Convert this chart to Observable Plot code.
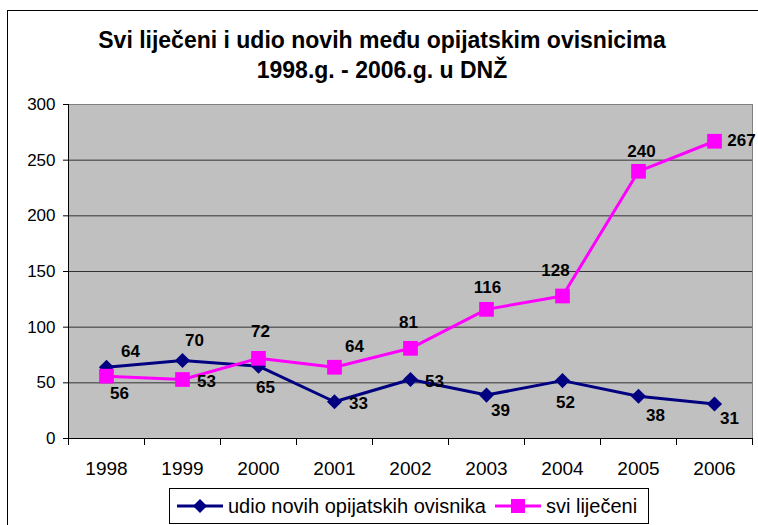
<!DOCTYPE html>
<html>
<head>
<meta charset="utf-8">
<script src="https://cdn.jsdelivr.net/npm/d3@7"></script>
<script src="https://cdn.jsdelivr.net/npm/@observablehq/plot@0.6"></script>
<style>
  html, body { margin: 0; padding: 0; background: #fff; overflow: hidden; }
  #wrap { position: relative; width: 758px; height: 525px; font-family: Arial, "Liberation Sans", sans-serif; color: #000; }
  #frame { position: absolute; left: 7px; top: 10px; width: 780px; height: 540px; border: 1px solid #000; box-sizing: border-box; }
  #title { position: absolute; left: 0; top: 25px; width: 764px; text-align: center; font-weight: bold; font-size: 23px; line-height: 30px; }
  #chart { position: absolute; left: 0; top: 90px; }
  #legend { position: absolute; left: 169px; top: 488px; width: 480px; height: 36px; box-sizing: border-box; border: 1px solid #000; background: #fff; display: flex; align-items: center; font-size: 20px; white-space: nowrap; }
  #legend svg { display: block; }
  .item { display: flex; align-items: center; }
</style>
</head>
<body>
<div id="wrap">
  <div id="frame"></div>
  <div id="title">Svi liječeni i udio novih među opijatskim ovisnicima<br>1998.g. - 2006.g. u DNŽ</div>
  <div id="chart"></div>
  <div id="legend"></div>
</div>
<script>
// ---- data ----
const years = [1998, 1999, 2000, 2001, 2002, 2003, 2004, 2005, 2006];
const noviValues = [64, 70, 65, 33, 53, 39, 52, 38, 31];
const sviValues = [56, 53, 72, 64, 81, 116, 128, 240, 267];
const yTicks = [0, 50, 100, 150, 200, 250, 300];
const seriesNames = ["udio novih opijatskih ovisnika", "svi liječeni"];
const seriesColors = ["#000080", "#FF00FF"];

// ---- label placement (layout only) ----
const noviLabelOffset = [[24,-16],[12,-20],[7,21],[24,2],[24,2],[14,15],[3,22],[17,19],[15,15]];
const sviLabelOffset = [[13,17],[24,2],[2,-27],[20,-21],[-2,-26],[1,-22],[-7,-25],[3,-20],[27,-1]];

const novi = years.map((x, i) => ({x, y: noviValues[i]}));
const svi = years.map((x, i) => ({x, y: sviValues[i]}));
const boundaries = years.map(y => y - 0.5).concat([years[years.length - 1] + 0.5]);

const labelMarks = (rows, offsets) => rows.map((d, i) => Plot.text([d], {
  x: "x", y: "y", text: d => String(d.y),
  dx: offsets[i][0], dy: offsets[i][1],
  fontWeight: "bold", fontSize: 17, fill: "#000"
}));

const chart = Plot.plot({
  width: 758,
  height: 390,
  marginLeft: 68,
  marginRight: 6,
  marginTop: 14,
  marginBottom: 42,
  x: {type: "linear", domain: [boundaries[0], boundaries[boundaries.length - 1]], axis: null},
  y: {domain: [0, 300], axis: null},
  style: {background: "transparent", fontFamily: "Arial, 'Liberation Sans', sans-serif", color: "#000", overflow: "visible"},
  marks: [
    Plot.frame({fill: "#c0c0c0", stroke: "#808080"}),
    Plot.ruleY(yTicks.filter(t => t > 0 && t < 300), {stroke: "#333", strokeWidth: 1}),
    Plot.ruleY([0], {stroke: "#000"}),
    Plot.ruleX([boundaries[0]], {stroke: "#000"}),
    Plot.axisY({ticks: yTicks, tickSize: 5, tickPadding: 8, fontSize: 17, label: null, tickFormat: d => String(d)}),
    Plot.axisX({ticks: boundaries, tickSize: 7, tickFormat: () => "", label: null}),
    Plot.axisX({ticks: years, tickSize: 0, tickPadding: 23, fontSize: 19, label: null, tickFormat: d => String(d)}),
    Plot.line(novi, {x: "x", y: "y", stroke: seriesColors[0], strokeWidth: 3}),
    Plot.dot(novi, {x: "x", y: "y", symbol: "diamond2", r: 6.8, fill: seriesColors[0], stroke: "none"}),
    Plot.line(svi, {x: "x", y: "y", stroke: seriesColors[1], strokeWidth: 3}),
    Plot.dot(svi, {x: "x", y: "y", symbol: "square", r: 8.3, fill: seriesColors[1], stroke: "none"}),
    ...labelMarks(novi, noviLabelOffset),
    ...labelMarks(svi, sviLabelOffset)
  ]
});
document.getElementById("chart").appendChild(chart);

// ---- legend ----
const legend = document.getElementById("legend");
const symbols = ["diamond", "square"];
seriesNames.forEach((name, i) => {
  const item = document.createElement("div");
  item.className = "item";
  item.style.marginLeft = i === 0 ? "7px" : "9px";
  const ns = "http://www.w3.org/2000/svg";
  const svg = document.createElementNS(ns, "svg");
  svg.setAttribute("width", 46);
  svg.setAttribute("height", 20);
  const line = document.createElementNS(ns, "line");
  line.setAttribute("x1", 0); line.setAttribute("x2", 46);
  line.setAttribute("y1", 10); line.setAttribute("y2", 10);
  line.setAttribute("stroke", seriesColors[i]); line.setAttribute("stroke-width", 3);
  svg.appendChild(line);
  const shape = document.createElementNS(ns, "path");
  shape.setAttribute("d", symbols[i] === "diamond" ? "M23,3L30,10L23,17L16,10Z" : "M16,3H30V17H16Z");
  shape.setAttribute("fill", seriesColors[i]);
  svg.appendChild(shape);
  item.appendChild(svg);
  const label = document.createElement("span");
  label.textContent = name;
  label.style.marginLeft = "5px";
  item.appendChild(label);
  legend.appendChild(item);
});
</script>
</body>
</html>
